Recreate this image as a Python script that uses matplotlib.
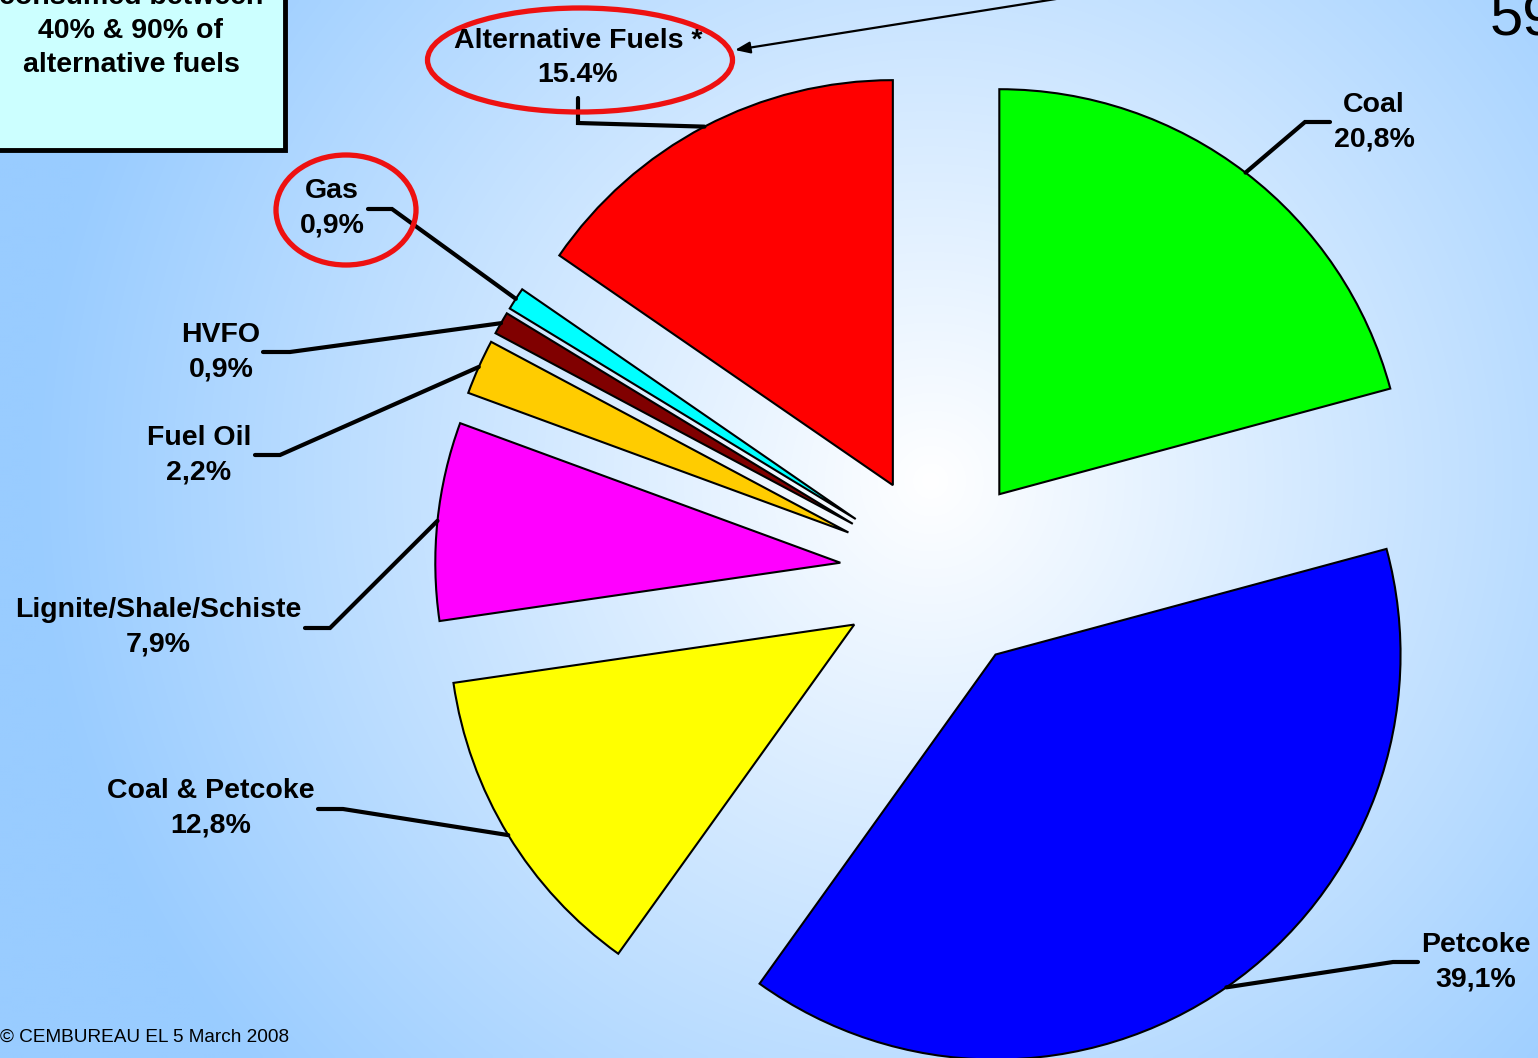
import numpy as np
import matplotlib.pyplot as plt
from matplotlib.patches import Ellipse, Rectangle

plt.rcParams['font.family'] = ['Liberation Sans', 'DejaVu Sans']

# ---------------------------- fuel mix (% of thermal energy) ----------------------------
fuels = ['Coal', 'Petcoke', 'Coal & Petcoke', 'Lignite/Shale/Schiste',
         'Fuel Oil', 'HVFO', 'Gas', 'Alternative Fuels *']
shares = [20.8, 39.1, 12.8, 7.9, 2.2, 0.9, 0.9, 15.4]
dec_sep = [',', ',', ',', ',', ',', ',', ',', '.']
colors = ['#00FF00', '#0000FF', '#FFFF00', '#FF00FF',
          '#FFCC00', '#800000', '#00FFFF', '#FF0000']

# label centre / elbow of leader / end of the short stub, in pixels
label_xy = [(1374, 122), (1476, 962), (211, 808), (158, 627),
            (199, 455), (221, 352), (332, 208), (578, 58)]
elbow_xy = [(1305, 122), (1393, 962), (343, 809), (330, 628),
            (280, 455), (290, 352), (392, 209), (578, 123)]
stub_xy = [(1330, 122), (1418, 962), (318, 809), (305, 628),
           (255, 455), (263, 352), (368, 209), (578, 98)]

W, H = 1538, 1058
fig = plt.figure(figsize=(W / 100, H / 100), dpi=100)
ax = fig.add_axes([0, 0, 1, 1])

# radial background, white in the middle going to light blue
yy, xx = np.mgrid[0:H:4, 0:W:4]
t = np.clip(np.hypot(xx - 930, yy - 480) / 900, 0, 1)[..., None]
white = np.array([1.0, 1.0, 1.0])
blue = np.array([153, 204, 255]) / 255
ax.imshow(white * (1 - t) + blue * t, extent=(0, W, H, 0),
          interpolation='bilinear', zorder=0)

# exploded pie (y axis points down, so counterclock here is clockwise on screen)
radius = 405
wedges, _ = ax.pie(shares, colors=colors, startangle=-90, counterclock=True,
                   radius=radius, center=(939, 573),
                   explode=[0.245 * radius] * len(shares),
                   wedgeprops=dict(edgecolor='black', linewidth=1.5))

for w, name, v, sep, txy, exy, sxy in zip(wedges, fuels, shares, dec_sep,
                                          label_xy, elbow_xy, stub_xy):
    ang = np.deg2rad((w.theta1 + w.theta2) / 2)
    cx, cy = w.center
    px, py = cx + w.r * np.cos(ang), cy + w.r * np.sin(ang)
    ax.plot([px, exy[0], sxy[0]], [py, exy[1], sxy[1]], color='black', lw=3,
            solid_capstyle='round', solid_joinstyle='miter', zorder=3)
    pct = f'{v:.1f}%'.replace('.', sep)
    ax.text(txy[0], txy[1], f'{name}\n{pct}', ha='center', va='center',
            fontsize=20.5, fontweight='bold', linespacing=1.42, zorder=5)

# highlight rings
ax.add_patch(Ellipse((580, 60), 305, 104, fill=False, edgecolor='#EE1111', lw=3.8, zorder=4))
ax.add_patch(Ellipse((346, 210), 140, 110, fill=False, edgecolor='#EE1111', lw=3.8, zorder=4))

# note box top left with arrow
ax.add_patch(Rectangle((-10, -10), 295, 160, facecolor='#CCFFFF', edgecolor='black',
                       lw=3.5, zorder=3))
ax.text(131, 31, 'consumed between\n40% & 90% of\nalternative fuels', ha='center',
        va='center', fontsize=20.5, fontweight='bold', linespacing=1.42, zorder=5)
ax.annotate('', xy=(735, 50), xytext=(1100, -8),
            arrowprops=dict(arrowstyle='-|>,head_length=0.9,head_width=0.35',
                            color='black', lw=1.6, shrinkA=0, shrinkB=0), zorder=5)

ax.text(1490, 35, '59', fontsize=43, ha='left', va='baseline', zorder=5)
ax.text(0, 1037, '© CEMBUREAU EL 5 March 2008', fontsize=13.7, ha='left', va='center')

ax.set_xlim(0, W)
ax.set_ylim(H, 0)
ax.axis('off')

plt.savefig('out.png', dpi=100)
